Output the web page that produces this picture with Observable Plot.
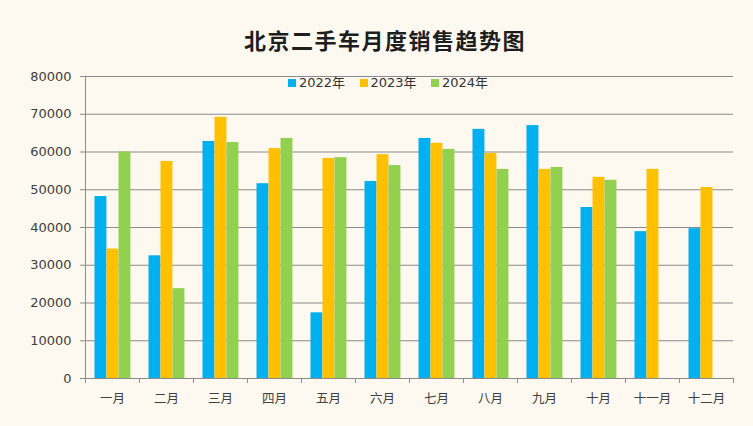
<!DOCTYPE html>
<html><head><meta charset="utf-8">
<script src="https://cdn.jsdelivr.net/npm/d3@7"></script>
<script src="https://cdn.jsdelivr.net/npm/@observablehq/plot@0.6"></script>
<style>
html,body{margin:0;padding:0;background:#fdf9f1;}
#wrap{position:relative;width:753px;height:426px;font-family:"DejaVu Sans","Noto Sans CJK SC",sans-serif;}
#title{position:absolute;left:385px;top:24px;transform:translateX(-50%);white-space:nowrap;font-size:22px;line-height:30px;letter-spacing:1.5px;font-weight:bold;color:#1e1e1e;font-family:"Noto Sans CJK SC",sans-serif;}
.lg{position:absolute;top:75px;font-size:13px;color:#333;white-space:nowrap;line-height:16px;}
.sw{display:inline-block;width:8px;height:8px;margin-right:3px;vertical-align:0px;}
#chart{position:absolute;left:0;top:0;}
</style></head>
<body><div id="wrap"><div id="title">北京二手车月度销售趋势图</div><div id="chart"></div></div>
<script>
const months = ["一月","二月","三月","四月","五月","六月","七月","八月","九月","十月","十一月","十二月"];
const years = ["2022年","2023年","2024年"];
const colors = ["#00b0f0","#ffc000","#92d050"];
const v2022 = [48200,32500,62800,51600,17400,52200,63600,66000,67000,45300,38900,39700];
const v2023 = [34300,57500,69200,60900,58300,59300,62300,59600,55400,53300,55400,50600];
const v2024 = [60000,23800,62500,63600,58500,56400,60700,55400,55900,52500,null,null];
const yTicks = [0,10000,20000,30000,40000,50000,60000,70000,80000];

const series = [v2022, v2023, v2024];
const W = 753, H = 426, mL = 84, mR = 20, mT = 76, mB = 48;
const step = (W - mL - mR) / months.length;
const barW = 12, off = 9.5;

const barMarks = series.map((vals, i) => {
  const data = months.map((m, j) => ({month: m, value: vals[j]})).filter(d => d.value != null);
  return Plot.barY(data, {x: "month", y: "value", fill: colors[i],
    insetLeft: off + barW * i, insetRight: step - off - barW * (i + 1)});
});

const plot = Plot.plot({
  width: W, height: H,
  marginLeft: mL, marginRight: mR, marginTop: mT, marginBottom: mB,
  style: {background: "transparent", fontFamily: "'DejaVu Sans','Noto Sans CJK SC',sans-serif", fontSize: "12.5px", color: "#404040"},
  x: {domain: months, padding: 0, label: null},
  y: {domain: [0, 80000], label: null},
  marks: [
    Plot.ruleY(yTicks.slice(1), {stroke: "#8a8a8a", strokeWidth: 1}),
    ...barMarks,
    Plot.ruleY([0], {stroke: "#8a8a8a"}),
    Plot.ruleX([months[0]], {dx: -step / 2, y1: 0, y2: 80000, stroke: "#8a8a8a"}),
    Plot.ruleX(months, {dx: -step / 2, y1: 0, y2: -1300, stroke: "#8a8a8a"}),
    Plot.ruleX([months[months.length - 1]], {dx: step / 2, y1: 0, y2: -1300, stroke: "#8a8a8a"}),
    Plot.axisY({ticks: yTicks, tickSize: 4, tickPadding: 9, stroke: "#8a8a8a", label: null, fontSize: 13, tickFormat: d => String(d)}),
    Plot.axisX({tickSize: 0, tickPadding: 16, label: null, fontSize: 12.5})
  ]
});
document.getElementById("chart").appendChild(plot);

const wrap = document.getElementById("wrap");
years.forEach((y, i) => {
  const el = document.createElement("div");
  el.className = "lg";
  el.style.left = (288 + i * 71.5) + "px";
  el.innerHTML = `<span class="sw" style="background:${colors[i]}"></span>${y}`;
  wrap.appendChild(el);
});
</script>
</body></html>
